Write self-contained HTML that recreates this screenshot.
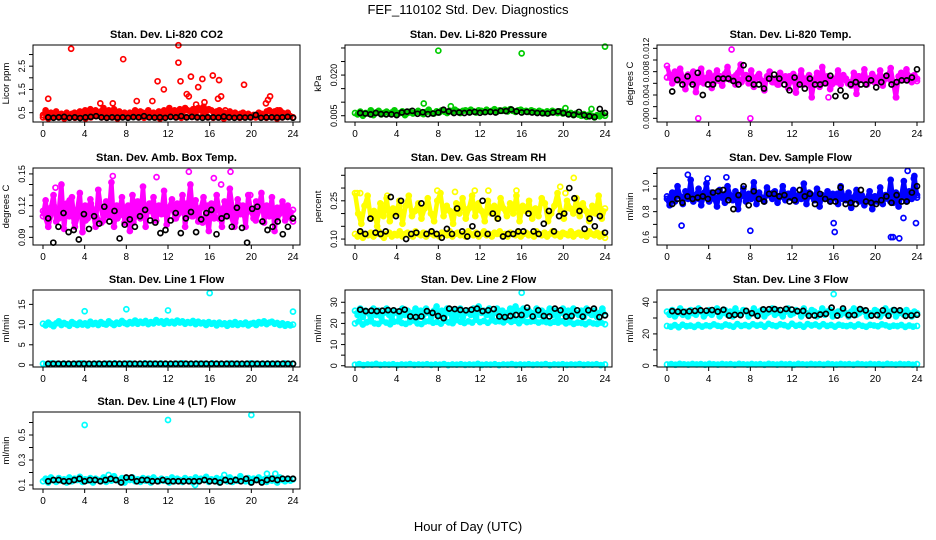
<!DOCTYPE html>
<html><head><meta charset="utf-8">
<style>
html,body{margin:0;padding:0;background:#fff;}
svg{display:block;font-family:"Liberation Sans",sans-serif;}
</style></head>
<body>
<svg id="fig" width="936" height="540" viewBox="0 0 936 540">
<text x="468" y="14" text-anchor="middle" font-size="13">FEF_110102  Std. Dev. Diagnostics</text>
<text x="468" y="531" text-anchor="middle" font-size="13">Hour of Day (UTC)</text>
</svg>
<script>
const hourTicks=[0,4,8,12,16,20,24];
const co2Band=[.4,.6,.3,.5,.35,.55,.3,.45,.4,.5,.3,.45,.5,.35,.55,.4,.6,.45,.65,.5,.6,.4,.55,.7,.45,.6,.5,.65,.4,.55,.45,.5,.35,.5,.4,.6,.45,.55,.5,.4,.6,.45,.5,.4,.55,.45,.6,.5,.7,.55,.6,.45,.65,.5,.7,.6,.55,.65,.5,.7,.6,.75,.55,.65,.6,.5,.55,.6,.45,.5,.4,.55,.45,.5,.4,.45,.5,.35,.45,.3,.4,.35,.5,.45,.4,.55,.6,.5,.55,.45,.6,.5,.4,.5,.35,.3];
const co2Low=[.3,.25,.3,.35,.25,.3,.28,.32,.25,.3,.35,.3,.28,.3,.25,.32,.3,.35,.3,.28,.32,.3,.25,.3,.35,.3,.28,.3,.32,.3,.35,.3,.28,.3,.25,.3,.32,.28,.3,.35,.3,.3,.28,.3,.25,.3,.32,.3];
const co2OutHours=[0.5,2.7,5.5,6.7,7.7,9,10.5,11,11.6,13,13,13.2,13.8,14,14.2,14.7,14.9,15.3,15.5,16.3,16.8,16.9,17.1,17.5,19.3,21.4,21.6,21.8,22.5];
const co2OutVals=[1.1,3.25,0.9,0.9,2.8,1.0,1.0,1.85,1.5,3.4,2.65,1.85,1.3,1.2,2.05,0.85,1.6,1.95,0.95,2.1,1.1,1.9,1.2,0.6,1.7,0.9,1.05,1.2,0.6];
const co2Black=[.3,.28,.3,.32,.28,.3,.27,.3,.32,.35,.3,.28,.3,.29,.3,.28,.31,.3,.35,.3,.29,.3,.28,.32,.3,.35,.3,.32,.3,.28,.3,.3,.29,.33,.3,.28,.3,.29,.3,.4,.28,.3,.3,.29,.3,.32,.28];
const presBand=[.006,.0055,.0065,.005,.006,.0058,.007,.0052,.0062,.0068,.0055,.006,.0065,.0058,.0062,.007,.0055,.006,.0066,.0052,.006,.0065,.0058,.0062,.0068,.006,.0056,.0064,.0072,.006,.0058,.0066,.0062,.007,.0065,.006,.0068,.0064,.0072,.0066,.006,.0068,.007,.0064,.0072,.0066,.0062,.007,.0068,.0064,.0072,.0066,.0068,.0074,.0065,.007,.0068,.0072,.0066,.0074,.0068,.0064,.007,.0072,.0066,.0068,.0064,.007,.0066,.0062,.0068,.0064,.006,.0066,.0062,.0068,.0064,.006,.0066,.0058,.0062,.0056,.006,.0052,.0058,.0054,.005,.0056,.0046,.0054,.005,.0044,.0052,.0048,.0056,.005];
const presOutHours=[6.6,8,9.2,16,24,22.7,20.2];
const presOutVals=[.0095,.029,.0085,.028,.0305,.0075,.0078];
const presBlack=[.006,.0058,.0055,.006,.0056,.0055,.0055,.0052,.0062,.0065,.0068,.0057,.0063,.0056,.0058,.0062,.0072,.0066,.006,.0062,.006,.0062,.0064,.0061,.0063,.0064,.0062,.0068,.0067,.0073,.0066,.0062,.0064,.0062,.006,.0059,.0058,.0062,.0066,.006,.0055,.0053,.0064,.0052,.0048,.0045,.0075,.006];
const tempBand=[.009,.0075,.006,.008,.0065,.0085,.007,.005,.0075,.0062,.008,.0045,.007,.0085,.006,.0068,.0078,.0052,.0072,.0082,.0064,.0056,.0076,.0088,.0066,.007,.0058,.0078,.0092,.0068,.0074,.006,.0082,.0054,.007,.0076,.0064,.0048,.0072,.008,.0062,.0068,.0058,.0078,.0066,.0072,.0052,.0064,.0076,.0044,.0068,.0082,.0058,.0062,.0074,.0036,.0066,.0078,.0054,.0088,.0062,.0072,.005,.0068,.0064,.0082,.0058,.0074,.0068,.0062,.0056,.0078,.0042,.0072,.0066,.0084,.0058,.0064,.0076,.007,.0062,.0082,.0056,.0068,.0074,.0086,.006,.0036,.0072,.0078,.0066,.0084,.007,.0062,.0074,.0068];
const tempBand2=[.007,.0066,.0078,.0064,.007,.0074,.0062,.0068,.0076,.0064,.0072,.0068,.0066,.0074,.0062,.007,.0066,.0072,.0064,.0068,.0062,.0058,.0066,.0072,.0062,.006,.0068,.0056,.0064,.006,.0066,.0058,.0062,.0068,.006,.0064,.0072,.0066,.0068,.0062,.0064,.007,.0066,.0062,.0068,.0066,.0072,.0064];
const tempOutHours=[3,8,6.2,15.5,22];
const tempOutVals=[0,0,.0118,.0036,.0036];
const tempBlack=[.0046,.0066,.0058,.0072,.0058,.0078,.004,.0058,.0058,.0068,.0068,.0068,.0064,.0058,.0091,.0068,.0058,.0058,.0051,.0068,.0075,.0068,.0058,.0048,.007,.0058,.0051,.0068,.0058,.0058,.006,.0073,.0038,.0048,.0038,.0058,.0062,.0058,.0058,.0065,.0053,.0062,.0073,.0058,.0062,.0065,.0065,.007,.0084];
const ambBand=[.11,.125,.1,.118,.13,.105,.115,.14,.098,.122,.11,.128,.104,.116,.132,.095,.12,.108,.126,.112,.1,.135,.118,.106,.124,.11,.142,.1,.12,.114,.128,.104,.118,.096,.13,.112,.124,.108,.138,.1,.12,.115,.128,.106,.12,.112,.134,.102,.118,.126,.108,.122,.115,.13,.1,.118,.14,.11,.125,.105,.118,.128,.112,.096,.122,.108,.13,.115,.1,.124,.11,.136,.118,.104,.126,.112,.12,.1,.13,.115,.108,.124,.118,.132,.104,.12,.11,.128,.096,.118,.114,.124,.106,.12,.112,.116];
const ambBand2=[.115,.1,.12,.108,.112,.125,.1,.118,.106,.122,.11,.104,.116,.12,.108,.112,.12,.104,.118,.11,.122,.106,.116,.112,.12,.108,.114,.122,.11,.116,.104,.12,.112,.108,.118,.114,.1,.12,.11,.116,.106,.12,.112,.118,.108,.114,.11,.105];
const ambOutHours=[1.2,6.7,10.9,14,16.4,17.1,18,19.9];
const ambOutVals=[.137,.148,.147,.152,.146,.14,.152,.13];
const ambBlack=[.108,.085,.1,.113,.095,.097,.088,.112,.098,.11,.103,.119,.105,.115,.089,.102,.107,.1,.11,.116,.106,.104,.094,.097,.106,.113,.094,.108,.114,.095,.107,.113,.116,.093,.108,.11,.1,.118,.099,.085,.117,.119,.105,.097,.1,.105,.093,.1,.108];
const rhLow=[.12,.11,.13,.105,.12,.115,.125,.11,.12,.13,.115,.105,.12,.125,.11,.12,.115,.13,.11,.12,.125,.115,.11,.13,.12,.115,.125,.11,.12,.13,.115,.12,.11,.125,.12,.115,.13,.11,.12,.125,.115,.12,.11,.13,.12,.115,.125,.11,.12,.13,.115,.12,.11,.125,.12,.13,.115,.12,.11,.125,.12,.115,.13,.11,.12,.125,.115,.12,.11,.13,.12,.115,.125,.11,.12,.13,.115,.12,.11,.125,.12,.115,.13,.11,.12,.125,.115,.12,.11,.13,.12,.115,.125,.11,.12,.105];
const rhUp=[.28,.2,.16,.23,.27,.18,.21,.15,.24,.19,.26,.17,.22,.2,.25,.16,.23,.27,.19,.21,.24,.18,.22,.26,.2,.17,.25,.28,.19,.23,.21,.16,.24,.2,.26,.18,.22,.27,.19,.24,.21,.17,.25,.2,.23,.18,.26,.22,.19,.24,.2,.27,.17,.23,.21,.25,.18,.22,.19,.26,.24,.17,.2,.23,.28,.21,.18,.25,.22,.2,.26,.19,.24,.21,.17,.23,.2,.27,.18,.22];
const rhOutHours=[0.2,0.5,3.1,7.9,9.6,11.5,12.8,15.5,19.7,20.2,21];
const rhOutVals=[.28,.28,.27,.29,.285,.29,.29,.29,.305,.28,.34];
const rhBlack=[.13,.12,.18,.125,.12,.13,.265,.19,.25,.1,.12,.125,.24,.12,.13,.12,.105,.14,.12,.22,.13,.11,.15,.12,.25,.12,.2,.18,.11,.12,.12,.13,.13,.2,.13,.12,.16,.21,.13,.19,.2,.3,.26,.21,.14,.18,.15,.19,.125];
const sfBand=[.9,.85,.95,.88,1.0,.92,.86,.96,.9,1.05,.88,.93,.98,.85,.92,1.02,.88,.95,.9,.84,.97,.91,.87,1.0,.93,.89,.96,.82,.92,.98,.88,.94,.9,1.03,.86,.95,.91,.88,.99,.93,.9,.96,.87,.92,1.0,.89,.94,.91,.97,.88,.93,.9,1.02,.86,.95,.92,.89,.98,.84,.93,.9,.96,.88,.94,.91,.86,1.0,.92,.89,.95,.83,.91,.97,.88,.93,.85,.9,.96,.82,.92,.88,.99,.86,.93,.9,1.05,.87,.95,.84,.92,1.04,.88,.96,.9,1.08,.93];
const sfBand2=[.92,.9,.94,.91,.93,.92,.9,.95,.92,.91,.93,.94,.9,.92,.93,.91,.94,.92,.9,.93,.95,.92,.91,.94,.93,.92,.9,.94,.92,.93,.91,.92,.94,.9,.93,.91,.92,.89,.93,.9,.91,.92,.88,.91,.93,.9,.92,.91];
const sfOutHours=[1.4,2,3.9,5.7,8,16,16.1,21.5,21.7,22.3,22.7,23.1,23.7,23.9];
const sfOutVals=[.69,1.09,1.06,1.07,.65,.71,.64,.6,.6,.59,.75,1.12,1.06,.71];
const sfBlack=[.86,.9,.87,.92,.9,.91,.92,.9,.95,.96,.97,.89,.82,.93,1.0,.85,.96,.9,.88,.94,.94,.92,.93,.88,.89,.97,.92,.94,.86,.94,.9,.88,.88,.99,.86,.87,.86,.97,.88,.87,.86,.89,.92,.87,.93,.88,.88,.95,1.0];
const l1Band=[10.2,9.8,10.5,10,9.6,10.3,10.8,9.9,10.4,10.1,9.7,10.6,10.2,9.9,10.5,10,10.3,9.8,10.7,10.1,10.4,9.9,10.6,10.2,10,10.8,10.3,9.9,10.5,10.2,10.9,10.4,10.1,10.6,10.3,11,10.2,10.7,10.4,10.9,10.1,10.6,10.3,11.1,10.5,10.8,10.2,10.9,10.4,10.7,10.3,11,10.5,10.8,10.2,10.6,10.4,10.9,10.1,10.7,10.3,10.5,9.9,10.6,10.2,10.4,9.8,10.5,10.1,10.3,9.7,10.4,10,10.6,9.9,10.3,10.1,10.5,9.8,10.2,10.4,9.9,10.6,10.3,10.8,10.1,10.5,10.7,10.2,10.4,9.9,10.3,9.7,10.1,9.8,10];
const l1Zero=[.3,.2,.4,.3,.25,.35,.3,.2,.3,.4,.3,.25,.3,.35,.2,.3,.3,.4,.25,.3,.35,.3,.2,.3,.4,.3,.3,.25,.35,.3,.2,.3,.3,.4,.25,.3,.35,.3,.3,.2,.4,.3,.3,.25,.35,.3,.3,.2,.3,.4,.3,.25,.3,.35,.3,.3,.2,.4,.3,.3];
const l1OutHours=[4,8,12,16,24];
const l1OutVals=[13.3,13.8,13.5,17.8,13.2];
const l1Black=[.3,.3,.3,.3,.3,.3,.3,.3,.3,.3,.3,.3,.3,.3,.3,.3,.3,.3,.3,.3,.3,.3,.3,.3,.3,.3,.3,.3,.3,.3,.3,.3,.3,.3,.3,.3,.3,.3,.3,.3,.3,.3,.3,.3,.3,.3,.3,.3,.3];
const l2Up=[26,24,27,23,26,25,22,27,24,26,23,25,27,24,22,26,25,23,27,24,26,22,25,27,23,26,24,27,25,23,26,28,24,26,23,27,25,22,26,24,27,23,25,26,24,27,23,28,25,26,24,27,23,25,27,24,26,23,25,27,24,28,26,23,27,24,26,25,23,27,24,26,22,25,27,24,26,23,25,27,24,26,23,27,25,24,26,23,27,25,24,26,23,25,27,24];
const l2Low=[20,21,19.5,20.5,21,20,19.8,21.2,20.4,19.6,20.8,21,20.2,19.8,20.6,21.4,20,19.7,20.9,21.1,20.3,20.7,19.9,21.3,20.5,20.1,21.6,20.8,20.2,21,20.4,21.8,20.6,21.2,20.3,21.5,20.9,21.1,20.5,21.7,20.7,21.3,20.1,21.4,20.6,20.9,21.2,20.4,21,20.6,20.2,20.8,20.4,21,20,20.6,19.8,20.4,20.2,19.6,20.6,20,19.8,20.4,19.6];
const l2Zero=[.5,.8,.3,.6,.5,.9,.4,.6,.5,.7,.3,.6,.5,.8,.4,.6,.5,.7,.4,.6,.5,.8,.3,.6,.5,.7,.4,.6,.5,.9,.4,.6,.5,.7,.3,.6,.5,.8,.4,.6,.5,.7,.4,.6,.5,.8,.3,.6,.5,.7,.4,.6,.5,.8,.4,.6,.5,.7,.3,.6];
const l2OutHours=[16];
const l2OutVals=[34.5];
const l2Black=[26.5,25.8,26,25.8,26,26.3,26.2,25.7,26.5,23.3,23,23.3,25.8,25,23.5,22.5,27,26.8,26.4,26.2,26.5,27,25.8,26.2,26.8,23.3,23,23.5,24,24,27.5,23.3,26.2,23.5,23.3,27,26.2,23.2,23.5,26.2,23.2,26.2,27,23,23.8];
const l3Up=[34,32,35,31,33,36,32,34,31,35,33,32,36,34,31,33,35,32,34,36,31,33,35,32,34,31,36,33,32,35,34,31,33,36,32,34,35,31,33,34,36,32,35,33,31,34,36,32,33,35,34,31,36,33,32,35,34,31,33,36,32,34,35,31,33,34,32,35,33,31,34,36,32,33,35,34,31,33,32,35,34,31,33,36,32,34,35,31,33,34,32,35,33,31,34,33];
const l3Low=[25,24.5,25.5,24.2,25.8,24.8,25.2,24.4,25.6,24.6,25.4,24.9,26,25.1,24.7,25.9,25.3,24.5,26.2,25,25.6,24.8,26.1,25.2,25.8,24.6,26.3,25.4,24.9,26,25.5,24.7,26.4,25.1,25.7,24.5,26.2,25.3,25.9,24.8,26.1,25,25.6,24.6,25.8,25.2,24.9,25.5,24.7,25.9,25.1,24.5,25.7,25.3,24.8,26,25.4,24.6,25.2,24.9,25.6,24.4,25.3,24.6,25];
const l3Zero=[.8,1,.6,1.2,.9,.7,1.1,.8,1,.6,1.2,.9,.7,1.1,.8,1,.6,1.2,.9,.7,1.1,.8,1,.6,1.2,.9,.7,1.1,.8,1,.6,1.2,.9,.7,1.1,.8,1,.6,1.2,.9,.7,1.1,.8,1,.6,1.2,.9,.7,1.1,.8,1,.6,1.2,.9,.7,1.1,.8,1,.6,1];
const l3OutHours=[16];
const l3OutVals=[45];
const l3Black=[34.3,34,33.8,34.2,34.5,34.8,34.6,35,34,35.2,31.5,32,31.8,34.5,33,31.3,35.4,35.5,35.6,35,35.7,35.3,34.3,34.5,31.4,31.6,32.2,32.6,36.5,31.5,36,31.8,31.8,35.6,34.8,31.5,31.8,34.8,31.4,35,34.8,31.3,31.6,32];
const l4Band=[.13,.15,.12,.16,.14,.125,.155,.135,.145,.12,.16,.13,.15,.14,.165,.125,.145,.135,.155,.12,.15,.14,.13,.16,.125,.145,.135,.17,.14,.13,.155,.12,.15,.14,.16,.13,.145,.125,.155,.135,.15,.12,.16,.14,.13,.15,.135,.145,.12,.16,.13,.15,.14,.125,.155,.135,.145,.12,.16,.13,.15,.14,.165,.125,.145,.135,.155,.12,.15,.14,.13,.16,.125,.145,.135,.17,.14,.13,.155,.12,.15,.14,.16,.13,.145,.125,.155,.135,.15,.12,.16,.14,.13,.15,.135,.145];
const l4OutHours=[4,12,20,14.6,17.4,21.5,22.3,6.3];
const l4OutVals=[.58,.62,.66,.1,.18,.19,.19,.18];
const l4Black=[.13,.14,.14,.13,.13,.14,.15,.13,.14,.14,.13,.14,.15,.14,.12,.16,.16,.13,.14,.14,.13,.13,.14,.13,.13,.13,.13,.13,.13,.13,.14,.13,.13,.12,.14,.13,.14,.13,.15,.12,.14,.12,.14,.15,.14,.15,.15,.15];

const colL=[33,345,657], colR=[300,612,924];
const rowT=[45,168,290,412], boxH=77;
const RED='#ff0000',GRN='#00cc00',MAG='#ff00ff',YEL='#ffff00',BLU='#0000ff',CYN='#00ffff';
const panels=[
 {name:'co2',title:'Stan. Dev. Li-820 CO2',ylab:'Licor ppm',c:0,r:0,lo:0.1,hi:3.41,ticks:[0.5,1,1.5,2,2.5,3],labels:['0.5',null,'1.5',null,'2.5',null],
  series:[[co2Band,RED],[co2Low,RED]],out:[co2OutHours,co2OutVals,RED],black:co2Black},
 {name:'pressure',title:'Stan. Dev. Li-820 Pressure',ylab:'kPa',c:1,r:0,lo:0.00268,hi:0.0311,ticks:[.005,.01,.015,.02,.025,.03],labels:['0.005',null,null,'0.020',null,null],
  series:[[presBand,GRN]],out:[presOutHours,presOutVals,GRN],black:presBlack},
 {name:'li820-temp',title:'Stan. Dev. Li-820 Temp.',ylab:'degrees C',c:2,r:0,lo:-0.00063,hi:0.01257,ticks:[0,.002,.004,.006,.008,.01,.012],labels:['0.000',null,'0.004',null,'0.008',null,'0.012'],
  series:[[tempBand,MAG],[tempBand2,MAG]],out:[tempOutHours,tempOutVals,MAG],black:tempBlack},
 {name:'amb-box-temp',title:'Stan. Dev. Amb. Box Temp.',ylab:'degrees C',c:0,r:1,lo:0.0828,hi:0.1556,ticks:[.09,.1,.11,.12,.13,.14,.15],labels:['0.09',null,null,'0.12',null,null,'0.15'],
  series:[[ambBand,MAG],[ambBand2,MAG]],out:[ambOutHours,ambOutVals,MAG],black:ambBlack},
 {name:'gas-rh',title:'Stan. Dev. Gas Stream RH',ylab:'percent',c:1,r:1,lo:0.0767,hi:0.3786,ticks:[.1,.15,.2,.25,.3,.35],labels:['0.10',null,null,'0.25',null,null],
  series:[[rhLow,YEL],[rhUp,YEL]],out:[rhOutHours,rhOutVals,YEL],black:rhBlack},
 {name:'sample-flow',title:'Stan. Dev. Sample Flow',ylab:'ml/min',c:2,r:1,lo:0.538,hi:1.143,ticks:[.6,.7,.8,.9,1,1.1],labels:['0.6',null,'0.8',null,'1.0',null],
  series:[[sfBand,BLU],[sfBand2,BLU]],out:[sfOutHours,sfOutVals,BLU],black:sfBlack},
 {name:'line1-flow',title:'Stan. Dev. Line 1 Flow',ylab:'ml/min',c:0,r:2,lo:-0.5,hi:18.56,ticks:[0,5,10,15],labels:['0','5','10','15'],
  series:[[l1Band,CYN],[l1Zero,CYN]],out:[l1OutHours,l1OutVals,CYN],black:l1Black},
 {name:'line2-flow',title:'Stan. Dev. Line 2 Flow',ylab:'ml/min',c:1,r:2,lo:-0.6,hi:35.8,ticks:[0,5,10,15,20,25,30],labels:['0',null,'10',null,'20',null,'30'],
  series:[[l2Up,CYN],[l2Low,CYN],[l2Zero,CYN]],out:[l2OutHours,l2OutVals,CYN],black:l2Black},
 {name:'line3-flow',title:'Stan. Dev. Line 3 Flow',ylab:'ml/min',c:2,r:2,lo:-0.8,hi:47.6,ticks:[0,10,20,30,40],labels:['0',null,'20',null,'40'],
  series:[[l3Up,CYN],[l3Low,CYN],[l3Zero,CYN]],out:[l3OutHours,l3OutVals,CYN],black:l3Black},
 {name:'line4-flow',title:'Stan. Dev. Line 4 (LT) Flow',ylab:'ml/min',c:0,r:3,lo:0.068,hi:0.684,ticks:[.1,.2,.3,.4,.5,.6],labels:['0.1',null,'0.3',null,'0.5',null],
  series:[[l4Band,CYN]],out:[l4OutHours,l4OutVals,CYN],black:l4Black}
];

const NS='http://www.w3.org/2000/svg';
const fig=document.getElementById('fig');
function mk(tag,attrs,parent){const e=document.createElementNS(NS,tag);for(const k in attrs)e.setAttribute(k,attrs[k]);parent.appendChild(e);return e;}

panels.forEach(p=>{
  const L=colL[p.c],R=colR[p.c],T=rowT[p.r],B=T+boxH;
  const xs=h=>L+10+h*(R-7-(L+10))/24;
  const ys=v=>B-(v-p.lo)*(B-T)/(p.hi-p.lo);
  const g=mk('g',{},fig);
  
  
  const t=mk('text',{x:(L+R)/2,y:T-7,'text-anchor':'middle','font-size':11,'font-weight':'bold'},g);
  t.textContent=p.title;
  
  
  const yl=mk('text',{transform:`translate(${L-24},${(T+B)/2}) rotate(-90)`,'text-anchor':'middle','font-size':9.5},g);
  yl.textContent=p.ylab;
  
  
  const pts=mk('g',{fill:'none','stroke-width':1.7},g);
  
  
  p.series.forEach(([arr,col])=>{
    const d=arr.map((v,i)=>xs(i*24/(arr.length-1)).toFixed(1)+','+ys(v).toFixed(1)).join(' ');
    const band=mk('polyline',{points:d,stroke:col,'stroke-width':4.5,'stroke-linejoin':'round',fill:'none'},pts);
    
    
    arr.forEach((v,i)=>{
      const c=mk('circle',{cx:xs(i*24/(arr.length-1)),cy:ys(v),r:2.5,stroke:col},pts);
      
      
    });
  });
  const [oh,ov,oc]=p.out;
  oh.forEach((h,i)=>{
    const c=mk('circle',{cx:xs(h),cy:ys(ov[i]),r:2.5,stroke:oc},pts);
    
    
  });
  p.black.forEach((v,i)=>{
    const h=0.5+i*23.5/(p.black.length-1);
    const c=mk('circle',{cx:xs(h),cy:ys(v),r:2.5,stroke:'#000'},pts);
    
    
  });
  const box=mk('rect',{x:L,y:T,width:R-L,height:B-T,fill:'none',stroke:'#000','stroke-width':1},g);
  
  
  const xa=mk('g',{stroke:'#000','font-size':10},g);
  
  
  mk('line',{x1:xs(0),x2:xs(24),y1:B,y2:B},xa);
  hourTicks.forEach(h=>{
    mk('line',{x1:xs(h),x2:xs(h),y1:B,y2:B+4},xa);
    const tx=mk('text',{x:xs(h),y:B+15,'text-anchor':'middle',stroke:'none',fill:'#000'},xa);
    tx.textContent=h;
  });
  const ya=mk('g',{stroke:'#000','font-size':p.name==='li820-temp'?8.5:9},g);
  
  
  mk('line',{x1:L,x2:L,y1:ys(p.ticks[0]),y2:ys(p.ticks[p.ticks.length-1])},ya);
  p.ticks.forEach((v,i)=>{
    mk('line',{x1:L-4,x2:L,y1:ys(v),y2:ys(v)},ya);
    if(p.labels[i]){
      const tx=mk('text',{transform:`translate(${L-8},${ys(v)}) rotate(-90)`,'text-anchor':'middle',stroke:'none',fill:'#000'},ya);
      tx.textContent=p.labels[i];
    }
  });
});
</script>
</body></html>
